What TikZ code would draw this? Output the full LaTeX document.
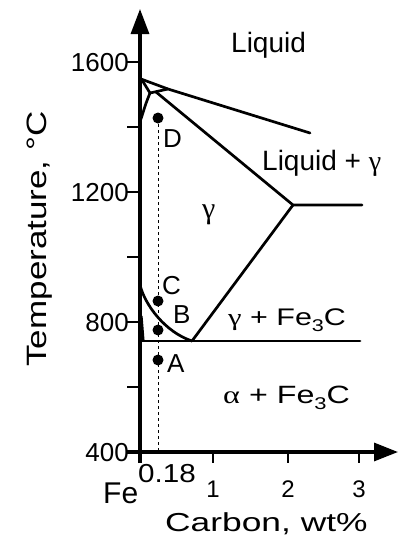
\documentclass[tikz,border=0pt]{standalone}
\usepackage{fontspec}
\setmainfont{Liberation Sans}
\newfontfamily\grk{Liberation Serif}
\usetikzlibrary{arrows.meta}
\begin{document}
\begin{tikzpicture}[x=1pt,y=-1pt,
  axisline/.style={line width=3.2pt},
  phase/.style={line width=2.7pt,line join=round,line cap=round},
  tickmark/.style={line width=2.4pt},
  guide/.style={line width=1pt,dash pattern=on 3pt off 3pt},
  dotmark/.style={circle,fill=black,inner sep=0pt,minimum size=11pt},
  lbl/.style={inner sep=0pt,anchor=base west},
  f28/.style={font=\fontsize{28}{30}\selectfont},
  f26/.style={font=\fontsize{26}{28}\selectfont},
  f25/.style={font=\fontsize{25}{27}\selectfont},
  f24/.style={font=\fontsize{24}{26}\selectfont}]
\useasboundingbox (0,0) rectangle (400,542);
% axes
\coordinate (o) at (140,452);
\coordinate (ytop) at (140,9);
\coordinate (xend) at (398,452);
\draw[axisline,-{Triangle[length=25pt,width=18pt]}] (140,463) -- (ytop);
\draw[axisline,-{Triangle[length=24pt,width=18pt]}] (127,452) -- (xend);
% y ticks
\foreach \yy in {62,127,192,257,322,387}
  \draw[tickmark] (127,\yy) -- (140,\yy);
% x ticks
\foreach \xx in {213,288,359}
  \draw[tickmark] (\xx,452) -- (\xx,463);
% y tick labels
\node[f26,inner sep=0pt,anchor=base east] (t1600) at (129,71) {1600};
\node[f26,inner sep=0pt,anchor=base east] (t1200) at (129,201) {1200};
\node[f26,inner sep=0pt,anchor=base east] (t800) at (129,331) {800};
\node[f26,inner sep=0pt,anchor=base east] (t400) at (129,461) {400};
% x tick labels
\node[f24,inner sep=0pt,anchor=base] (x1) at (213,497) {1};
\node[f24,inner sep=0pt,anchor=base] (x2) at (288,497) {2};
\node[f24,inner sep=0pt,anchor=base] (x3) at (359,497) {3};
\node[lbl,font=\fontsize{30}{32}\selectfont] (fe) at (103,503) {Fe};
\node[lbl,f26] (x018) at (138,482) {\scalebox{1.14}[1]{0.18}};
% axis titles
\node[lbl,f26] (xtitle) at (165,531) {\scalebox{1.36}[1]{Carbon, wt\%}};
\node[f28,inner sep=0pt,anchor=base,rotate=90] (ytitle) at (46,239) {\scalebox{1.25}[1]{Temperature, °C}};
% phase boundaries
\coordinate (melt) at (141,79);
\coordinate (peri) at (168,89);
\coordinate (liqend) at (310,133);
\coordinate (dmax) at (150,93);
\coordinate (gsol) at (156,92);
\coordinate (eut) at (293,205);
\coordinate (eutend) at (362,205);
\coordinate (ed) at (192,341);
\coordinate (a3) at (140,285);
\draw[phase] (melt) -- (peri) -- (liqend);
\draw[phase] (142,80) -- (dmax) -- (peri);
\draw[phase] (dmax) .. controls (146,103) .. (141,119);
\draw[phase] (gsol) -- (eut) -- (eutend);
\draw[phase] (eut) -- (ed);
\draw[phase] (a3) .. controls (145,305) and (165,332) .. (ed);
\draw[phase] (140,341) -- (360,341);
\draw[line width=3.2pt] (141,316) -- (143,341);
% composition line and points
\coordinate (dbot) at (158,452);
\node[dotmark] (pD) at (158,118) {};
\node[dotmark] (pC) at (158,301) {};
\node[dotmark] (pB) at (158,330) {};
\node[dotmark] (pA) at (158,360) {};
\draw[guide] (pD.center) -- (dbot);
\node[lbl,f26] (lD) at (163,147) {D};
\node[lbl,f26] (lC) at (162,294) {C};
\node[lbl,f26] (lB) at (173,323) {B};
\node[lbl,f26] (lA) at (167,372) {A};
% region labels
\node[lbl,f28] (liq) at (231,52) {Liquid};
\node[lbl,f28] (liqg) at (262,170) {Liquid + {\grk γ}};
\node[lbl,font=\fontsize{30}{32}\selectfont] (gam) at (202,218) {\grk γ};
\node[lbl,font=\fontsize{24}{26}\selectfont] (gfe) at (228,325) {\scalebox{1.27}[1]{{\grk γ} + Fe\raisebox{-6pt}{\fontsize{17}{17}\selectfont 3}C}};
\node[lbl,f25] (afe) at (223,403) {\scalebox{1.29}[1]{{\grk α} + Fe\raisebox{-6pt}{\fontsize{17}{17}\selectfont 3}C}};
\end{tikzpicture}
\end{document}
